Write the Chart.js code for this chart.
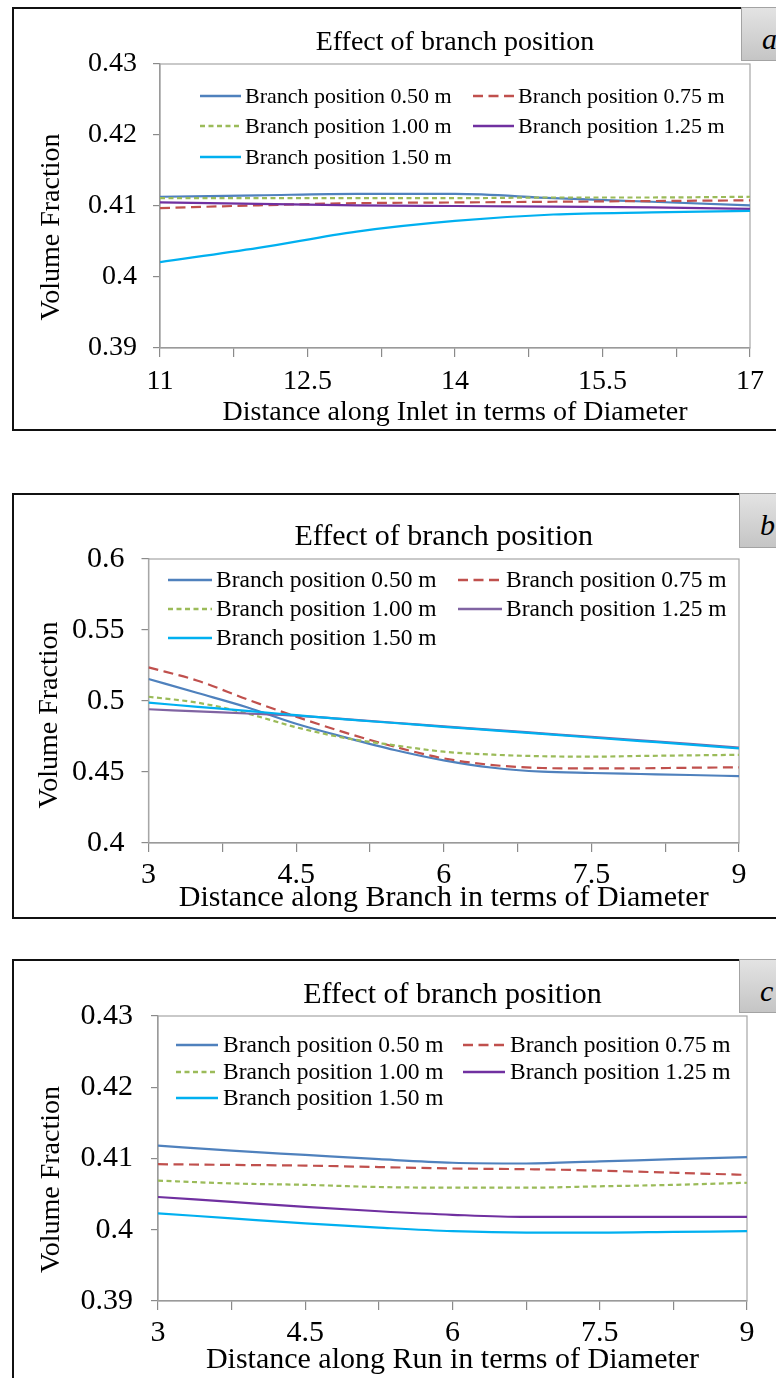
<!DOCTYPE html>
<html>
<head>
<meta charset="utf-8">
<title>Effect of branch position</title>
<script src="https://cdn.jsdelivr.net/npm/chart.js@4.4.1/dist/chart.umd.min.js"></script>
<style>
  html, body { margin: 0; padding: 0; background: #fff; width: 776px; height: 1378px; overflow: hidden; }
  .frame { position: absolute; left: 12px; width: 820px; border: 2px solid #111; border-right: none; box-sizing: border-box; }
  .tag { position: absolute; width: 60px; box-sizing: border-box; border: 1px solid #a3a3a3;
         background: linear-gradient(#e3e3e3, #c5c5c5); color: #000;
         font: italic 30px 'Liberation Serif', 'Times New Roman', serif; line-height: 62px; padding-left: 20px; }
  canvas { position: absolute; left: 15px; }
</style>
</head>
<body>
<div class="frame" style="top:7px;height:424px"></div>
<div class="tag" style="left:741px;top:7px;height:54px">a</div>
<canvas id="panelA" width="761" height="419" style="top:10px"></canvas>

<div class="frame" style="top:493px;height:426px"></div>
<div class="tag" style="left:739px;top:493px;height:55px">b</div>
<canvas id="panelB" width="761" height="421" style="top:496px"></canvas>

<div class="frame" style="top:959px;height:440px"></div>
<div class="tag" style="left:739px;top:959px;height:54px">c</div>
<canvas id="panelC" width="761" height="416" style="top:962px"></canvas>

<script>
// volume fraction along the inlet, branch and run, one series per branch position
const seriesLabels = ['Branch position 0.50 m', 'Branch position 0.75 m', 'Branch position 1.00 m',
                      'Branch position 1.25 m', 'Branch position 1.50 m'];

const inletX   = [11, 12, 13, 14, 15, 16, 17];
const inlet050 = [0.4113, 0.4115, 0.4117, 0.4117, 0.4111, 0.4106, 0.4101];
const inlet075 = [0.4097, 0.4101, 0.4104, 0.4105, 0.4106, 0.4107, 0.4108];
const inlet100 = [0.4111, 0.4111, 0.4111, 0.4111, 0.4112, 0.4112, 0.4113];
const inlet125 = [0.4105, 0.4103, 0.4101, 0.4100, 0.4099, 0.4098, 0.4096];
const inlet150 = [0.4021, 0.4041, 0.4064, 0.4079, 0.4088, 0.4091, 0.4093];

const branchX   = [3, 3.5, 4, 4.5, 5, 5.5, 6, 6.5, 7, 7.5, 8, 8.5, 9];
const branch050 = [0.5155, 0.5056, 0.4956, 0.4840, 0.4744, 0.4655, 0.4582, 0.4530, 0.4502, 0.4493, 0.4486, 0.4479, 0.4471];
const branch075 = [0.5237, 0.5143, 0.5012, 0.4890, 0.4777, 0.4678, 0.4596, 0.4549, 0.4528, 0.4525, 0.4526, 0.4530, 0.4533];
const branch100 = [0.5030, 0.4988, 0.4913, 0.4815, 0.4739, 0.4688, 0.4643, 0.4622, 0.4611, 0.4608, 0.4613, 0.4617, 0.4621];
const branch125 = [0.4942, 0.4927, 0.4912, 0.4897, 0.4872, 0.4847, 0.4821, 0.4797, 0.4772, 0.4747, 0.4723, 0.4698, 0.4672];
const branch150 = [0.4988, 0.4959, 0.4930, 0.4900, 0.4870, 0.4845, 0.4818, 0.4793, 0.4768, 0.4743, 0.4718, 0.4693, 0.4667];

const runX   = [3, 3.75, 4.5, 5.25, 6, 6.75, 7.5, 8.25, 9];
const run050 = [0.4118, 0.4111, 0.4105, 0.4099, 0.4094, 0.4093, 0.4096, 0.4099, 0.4102];
const run075 = [0.4092, 0.4091, 0.4090, 0.4088, 0.4086, 0.4085, 0.4083, 0.4080, 0.4077];
const run100 = [0.4069, 0.4065, 0.4063, 0.4060, 0.4059, 0.4059, 0.4061, 0.4063, 0.4066];
const run125 = [0.4046, 0.4039, 0.4032, 0.4026, 0.4021, 0.4018, 0.4018, 0.4018, 0.4018];
const run150 = [0.4023, 0.4016, 0.4009, 0.4003, 0.3998, 0.3996, 0.3996, 0.3997, 0.3998];

const chartTitle = 'Effect of branch position';
const yTitle = 'Volume Fraction';

const FONT = "'Liberation Serif', 'Times New Roman', serif";
const AXIS = '#8a8a8a';
const PURPLE = '#7030A0';

// line look per series: colour, dash
const seriesStyle = [
  { color: '#4F81BD', dash: [] },
  { color: '#C0504D', dash: [10, 5.5] },
  { color: '#9BBB59', dash: [5, 3.5] },
  { color: PURPLE,    dash: [] },
  { color: '#00B0F0', dash: [] }
];

const serif = (size) => ({ family: FONT, size, weight: 'normal', lineHeight: 1.2 });
const fmt = (v) => String(Number(v.toFixed(3)));

// light frame round the plot area
const plotFrame = {
  id: 'plotFrame',
  beforeDatasetsDraw(chart) {
    const { ctx, chartArea: a } = chart;
    ctx.save();
    ctx.strokeStyle = '#a6a6a6';
    ctx.lineWidth = 1.2;
    ctx.strokeRect(a.left, a.top, a.width, a.height);
    ctx.restore();
  }
};

// two-column legend sitting inside the plot area
const inlineLegend = {
  id: 'inlineLegend',
  afterDatasetsDraw(chart, args, o) {
    const { ctx, chartArea: a } = chart;
    ctx.save();
    ctx.font = o.size + 'px ' + FONT;
    ctx.fillStyle = '#000';
    ctx.textBaseline = 'middle';
    chart.data.datasets.forEach((ds, i) => {
      const x = a.left + o.cols[i % 2];
      const y = a.top + o.rows[Math.floor(i / 2)];
      ctx.strokeStyle = ds.borderColor;
      ctx.lineWidth = ds.borderWidth + 0.5;
      ctx.setLineDash(ds.borderDash);
      ctx.beginPath();
      ctx.moveTo(x, y);
      ctx.lineTo(x + o.lineLen, y);
      ctx.stroke();
      ctx.fillText(ds.label, x + o.lineLen + o.gap, y + 1);
    });
    ctx.restore();
  }
};

function makePanel(id, p) {
  const datasets = p.series.map((vals, i) => ({
    label: seriesLabels[i],
    data: p.x.map((x, k) => ({ x, y: vals[k] })),
    borderColor: (p.colors && p.colors[i]) || seriesStyle[i].color,
    borderWidth: p.lineWidth,
    borderDash: seriesStyle[i].dash,
    pointRadius: 0,
    cubicInterpolationMode: 'monotone',
    order: -i
  }));

  return new Chart(document.getElementById(id), {
    type: 'line',
    data: { datasets },
    plugins: [plotFrame, inlineLegend],
    options: {
      responsive: false,
      animation: false,
      devicePixelRatio: 1,
      layout: { padding: { left: 0, top: 0, right: p.padRight, bottom: 0 } },
      scales: {
        x: {
          type: 'linear', min: p.xMin, max: p.xMax,
          ticks: { stepSize: 0.75, autoSkip: false, maxRotation: 0, padding: p.xTickPad, color: '#000',
                   font: serif(p.tickSize), callback: (v, i) => (i % 2 ? '' : fmt(v)) },
          grid: { drawOnChartArea: false, tickLength: 9, color: AXIS, lineWidth: 1.2 },
          border: { color: AXIS, width: 1.3 },
          title: { display: true, text: p.xTitle, color: '#000', font: serif(p.titleSize),
                   padding: { top: 0, bottom: p.xTitlePad } },
          afterFit: (s) => { s.height = p.xHeight; }
        },
        y: {
          min: p.yMin, max: p.yMax,
          ticks: { stepSize: p.yStep, padding: p.yTickPad, color: '#000', font: serif(p.tickSize),
                   callback: (v, i) => (i % 2 ? '' : fmt(v)) },
          grid: { drawOnChartArea: false, tickLength: 7, color: AXIS, lineWidth: 1.2 },
          border: { color: AXIS, width: 1.3 },
          // trailing spaces nudge the centred, rotated title down the axis
          title: { display: true, text: yTitle + ' '.repeat(p.yTitleNudge), color: '#000', font: serif(28),
                   padding: { top: p.yTitlePad, bottom: 0 } },
          afterFit: (s) => { s.width = p.yWidth; }
        }
      },
      plugins: {
        legend: { display: false },
        tooltip: { enabled: false },
        title: { display: true, text: chartTitle, fullSize: false, color: '#000', font: serif(p.titleSize),
                 padding: { top: p.titleTop, bottom: p.titleBottom } },
        inlineLegend: p.legend
      }
    }
  });
}

makePanel('panelA', {
  x: inletX, series: [inlet050, inlet075, inlet100, inlet125, inlet150],
  xMin: 11, xMax: 17, yMin: 0.39, yMax: 0.43, yStep: 0.005,
  xTitle: 'Distance along Inlet in terms of Diameter',
  lineWidth: 2.2, tickSize: 28, titleSize: 28,
  padRight: 26, yWidth: 145, xHeight: 81,
  titleTop: 16, titleBottom: 4.4, xTickPad: 8, xTitlePad: 0, yTickPad: 16, yTitlePad: 20, yTitleNudge: 6,
  legend: { size: 22, cols: [40, 313], rows: [32, 62, 93], lineLen: 41, gap: 4 }
});

makePanel('panelB', {
  x: branchX, series: [branch050, branch075, branch100, branch125, branch150],
  colors: [null, null, null, '#8064A2', null],
  xMin: 3, xMax: 9, yMin: 0.4, yMax: 0.6, yStep: 0.025,
  xTitle: 'Distance along Branch in terms of Diameter',
  lineWidth: 2.2, tickSize: 30, titleSize: 30,
  padRight: 37, yWidth: 133.5, xHeight: 74,
  titleTop: 23, titleBottom: 4, xTickPad: 5, xTitlePad: 1, yTickPad: 17, yTitlePad: 17.7, yTitleNudge: 4,
  legend: { size: 23.5, cols: [19.5, 309.5], rows: [21, 50, 79], lineLen: 44, gap: 4 }
});

makePanel('panelC', {
  x: runX, series: [run050, run075, run100, run125, run150],
  xMin: 3, xMax: 9, yMin: 0.39, yMax: 0.43, yStep: 0.005,
  xTitle: 'Distance along Run in terms of Diameter',
  lineWidth: 2.2, tickSize: 30, titleSize: 30,
  padRight: 29, yWidth: 143, xHeight: 77,
  titleTop: 15, titleBottom: 3, xTickPad: 5, xTitlePad: 0, yTickPad: 18, yTitlePad: 20, yTitleNudge: 6,
  legend: { size: 23.5, cols: [18, 305], rows: [29, 56, 82], lineLen: 42, gap: 5 }
});
</script>
</body>
</html>
